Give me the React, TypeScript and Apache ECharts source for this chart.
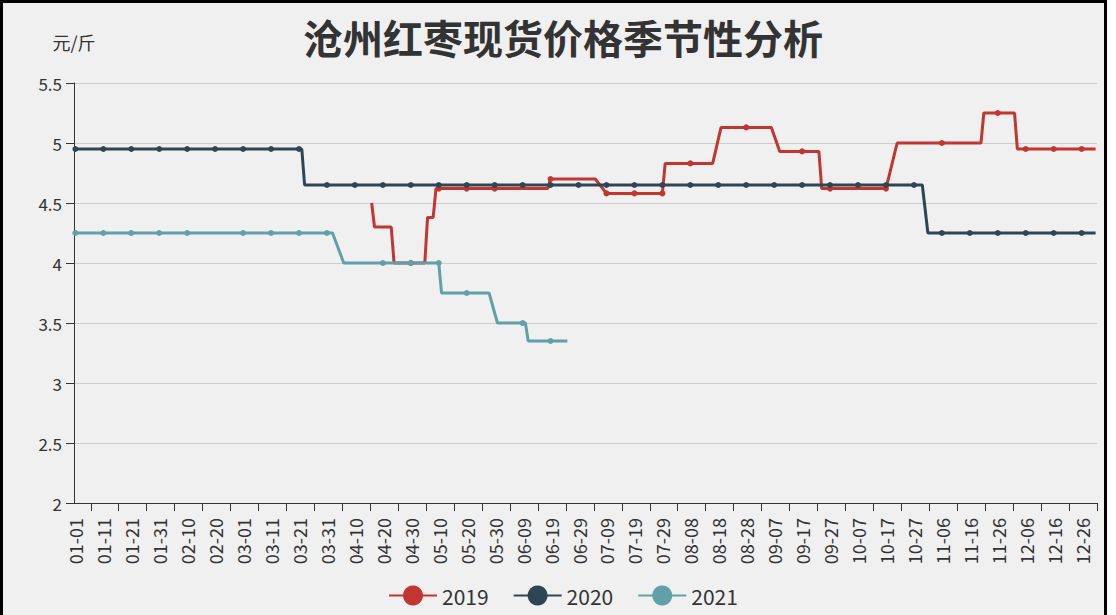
import React, { useEffect, useRef } from "react";
import * as echarts from "echarts";

const pad = (n: number) => (n < 10 ? "0" + n : String(n));

// Daily MM-DD slots over a leap year so that 02-29 has its own place
const MONTH_DAYS = [31, 29, 31, 30, 31, 30, 31, 31, 30, 31, 30, 31];
const categories: string[] = [];
MONTH_DAYS.forEach((n, m) => {
  for (let d = 1; d <= n; d++) categories.push(`${pad(m + 1)}-${pad(d)}`);
});

const title = "沧州红枣现货价格季节性分析";
const unitName = "元/斤";
const seriesNames = ["2019", "2020", "2021"];
const colors = ["#c23531", "#2f4554", "#61a0a8"];

// Quoted price runs: [first day, last day, price in 元/斤]
const runs2019: [string, string, number][] = [
  ["04-16", "04-16", 4.5],
  ["04-17", "04-23", 4.3],
  ["04-24", "05-05", 4.0],
  ["05-06", "05-08", 4.38],
  ["05-09", "06-18", 4.62],
  ["06-19", "07-05", 4.7],
  ["07-09", "07-29", 4.58],
  ["07-30", "08-16", 4.83],
  ["08-19", "09-06", 5.13],
  ["09-09", "09-23", 4.93],
  ["09-24", "10-17", 4.62],
  ["10-21", "11-20", 5.0],
  ["11-21", "12-02", 5.25],
  ["12-03", "12-31", 4.95],
];
const gaps2019 = ["04-20", "06-09", "06-29", "10-07", "10-27", "11-16"];

const runs2020: [string, string, number][] = [
  ["01-01", "03-22", 4.95],
  ["03-23", "10-30", 4.65],
  ["11-01", "12-31", 4.25],
];
const gaps2020: string[] = [];

const runs2021: [string, string, number][] = [
  ["01-01", "04-02", 4.25],
  ["04-06", "05-10", 4.0],
  ["05-11", "05-28", 3.75],
  ["05-31", "06-10", 3.5],
  ["06-11", "06-25", 3.35],
];
const gaps2021 = ["02-20", "04-10"];

const yMin = 2;
const yMax = 5.5;
const yStep = 0.5;

function toDaily(runs: [string, string, number][], gaps: string[]) {
  const values: (number | null)[] = categories.map(() => null);
  runs.forEach(([from, to, v]) => {
    const a = categories.indexOf(from);
    const b = categories.indexOf(to);
    for (let i = a; i <= b; i++) values[i] = v;
  });
  gaps.forEach((g) => {
    values[categories.indexOf(g)] = null;
  });
  return values;
}

const yearData = [
  toDaily(runs2019, gaps2019),
  toDaily(runs2020, gaps2020),
  toDaily(runs2021, gaps2021),
];

const FONT = "'Noto Sans CJK SC', 'Noto Sans', sans-serif";

export default function App() {
  const ref = useRef<HTMLDivElement>(null);

  useEffect(() => {
    if (!ref.current) return;
    const chart = echarts.init(ref.current, undefined, { renderer: "svg" });
    chart.setOption({
      animation: false,
      color: colors,
      textStyle: { fontFamily: FONT },
      title: {
        text: title,
        left: 295,
        top: 9,
        textStyle: { fontSize: 40, fontWeight: "bold", color: "#333", fontFamily: FONT },
      },
      legend: {
        data: seriesNames,
        left: 380,
        top: 577,
        itemWidth: 48,
        itemHeight: 25,
        itemGap: 24,
        lineStyle: { width: 2 },
        textStyle: { fontSize: 21, color: "#333", fontFamily: FONT },
      },
      grid: { left: 71, right: 7, top: 80, bottom: 112, containLabel: false },
      xAxis: {
        type: "category",
        data: categories,
        boundaryGap: true,
        axisLine: { show: true, lineStyle: { color: "#333", width: 1 } },
        axisTick: {
          show: true,
          length: 8,
          interval: (i: number) => i % 10 === 6,
          lineStyle: { color: "#333" },
        },
        axisLabel: {
          interval: (i: number) => i % 10 === 0,
          rotate: 90,
          margin: 15,
          fontSize: 18,
          color: "#333",
          fontFamily: FONT,
        },
        splitLine: { show: false },
      },
      yAxis: {
        type: "value",
        min: yMin,
        max: yMax,
        interval: yStep,
        name: unitName,
        nameLocation: "end",
        nameGap: 32,
        nameTextStyle: { fontSize: 18, color: "#333", fontFamily: FONT },
        axisLine: { show: true, lineStyle: { color: "#333", width: 1 } },
        axisTick: { show: true, length: 8, lineStyle: { color: "#333" } },
        axisLabel: { fontSize: 17, color: "#333", margin: 12, fontFamily: FONT },
        splitLine: { show: true, lineStyle: { color: "#ccc", width: 1 } },
      },
      series: seriesNames.map((name, k) => ({
        name,
        type: "line",
        data: yearData[k],
        connectNulls: true,
        symbol: "circle",
        symbolSize: 6,
        showAllSymbol: "auto",
        lineStyle: { width: 3, color: colors[k] },
        itemStyle: { color: colors[k] },
      })),
    });
    return () => chart.dispose();
  }, []);

  return (
    <div
      style={{
        position: "fixed",
        left: 0,
        top: 0,
        width: 1116,
        height: 615,
        overflow: "hidden",
        background: "#ffffff",
      }}
    >
      <div
        style={{
          position: "absolute",
          left: 0,
          top: 0,
          width: 1107,
          height: 700,
          boxSizing: "border-box",
          border: "3px solid #000",
          background: "#f0f0f0",
        }}
      >
        <div ref={ref} style={{ width: 1101, height: 612 }} />
      </div>
    </div>
  );
}
